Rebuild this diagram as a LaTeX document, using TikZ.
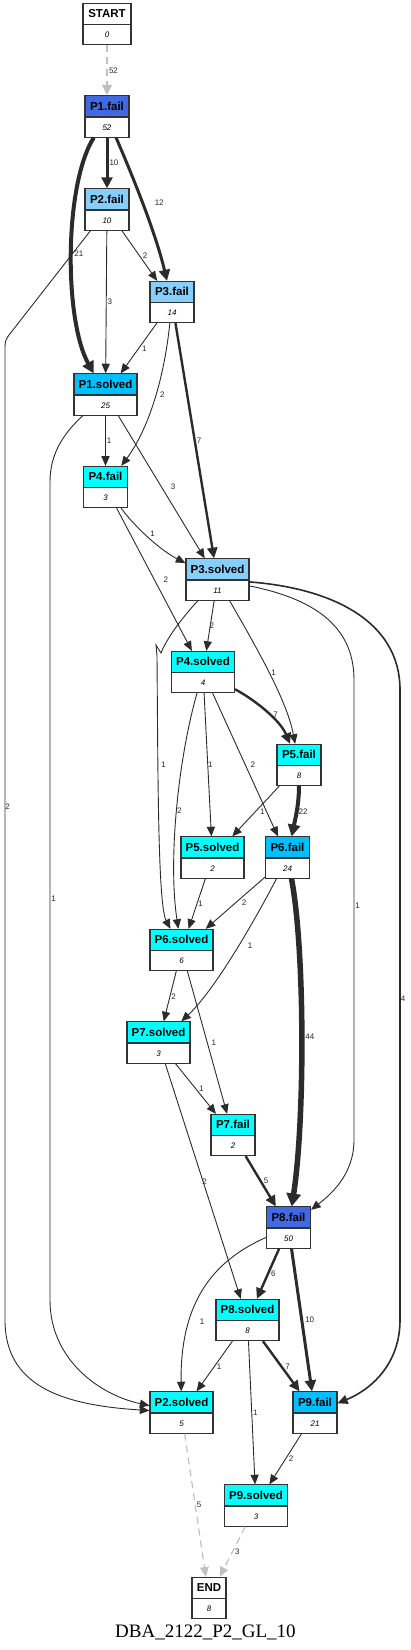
\documentclass[tikz,border=0pt]{standalone}
\usepackage{fontspec}
\setmainfont{Liberation Sans}
\newfontfamily\titlefont{Liberation Serif}
\usetikzlibrary{arrows.meta,shapes.multipart}
\definecolor{royal}{HTML}{4169E1}
\definecolor{skylight}{HTML}{87CEFA}
\definecolor{skydeep}{HTML}{00BFFF}
\definecolor{aqua}{HTML}{00FFFF}
\definecolor{edgecol}{HTML}{2B2B2B}
\definecolor{faint}{HTML}{C0C0C0}
\newcommand{\statehead}[1]{\fontsize{11.5}{12}\selectfont\bfseries\rule[-6pt]{0pt}{20pt}#1}
\newcommand{\statecount}[1]{\fontsize{8}{9}\selectfont\itshape\rule[-6.5pt]{0pt}{19pt}#1}

\begin{document}
\begin{tikzpicture}[
    x=1pt, y=-1pt,
    state/.style={rectangle split, rectangle split parts=2, draw=black!80, line width=1.1pt,
        inner xsep=2pt, inner ysep=0pt, rectangle split part fill={#1,white}},
    fail/.style={state=#1, minimum width=44pt},
    solved/.style={state=#1, minimum width=63pt},
    flow/.style={-{Triangle[length=9pt 0.7,width=7pt 1.3]}, draw=edgecol, line width=#1},
    flow/.default=0.9pt,
    faded/.style={-{Triangle[length=9pt 0.7,width=7pt 1.3]}, draw=faint, dash pattern=on 7pt off 5pt, line width=#1},
    lbl/.style={font=\fontsize{8}{9}\selectfont, inner sep=1pt, text=black!85}
]
\useasboundingbox (0,0) rectangle (411,1650);
\node[state=white, minimum width=48pt] (start) at (107,24) {\statehead{START}\nodepart{two}\statecount{0}};
\node[fail=royal] (p1f) at (107,116.5) {\statehead{P1.fail}\nodepart{two}\statecount{52}};
\node[fail=skylight] (p2f) at (107,209.5) {\statehead{P2.fail}\nodepart{two}\statecount{10}};
\node[fail=skylight] (p3f) at (172,302) {\statehead{P3.fail}\nodepart{two}\statecount{14}};
\node[solved=skydeep] (p1s) at (105.5,394.5) {\statehead{P1.solved}\nodepart{two}\statecount{25}};
\node[fail=aqua] (p4f) at (105.5,487) {\statehead{P4.fail}\nodepart{two}\statecount{3}};
\node[solved=skylight] (p3s) at (217.5,579.5) {\statehead{P3.solved}\nodepart{two}\statecount{11}};
\node[solved=aqua] (p4s) at (203,672) {\statehead{P4.solved}\nodepart{two}\statecount{4}};
\node[fail=aqua] (p5f) at (299,765) {\statehead{P5.fail}\nodepart{two}\statecount{8}};
\node[solved=aqua] (p5s) at (212.5,857.5) {\statehead{P5.solved}\nodepart{two}\statecount{2}};
\node[fail=skydeep] (p6f) at (287.5,857.5) {\statehead{P6.fail}\nodepart{two}\statecount{24}};
\node[solved=aqua] (p6s) at (181.5,950) {\statehead{P6.solved}\nodepart{two}\statecount{6}};
\node[solved=aqua] (p7s) at (158.5,1042.5) {\statehead{P7.solved}\nodepart{two}\statecount{3}};
\node[fail=aqua] (p7f) at (233,1135) {\statehead{P7.fail}\nodepart{two}\statecount{2}};
\node[fail=royal] (p8f) at (288.5,1227.5) {\statehead{P8.fail}\nodepart{two}\statecount{50}};
\node[solved=aqua] (p8s) at (247.5,1320) {\statehead{P8.solved}\nodepart{two}\statecount{8}};
\node[solved=aqua] (p2s) at (181.5,1412.5) {\statehead{P2.solved}\nodepart{two}\statecount{5}};
\node[fail=skydeep] (p9f) at (315,1412.5) {\statehead{P9.fail}\nodepart{two}\statecount{21}};
\node[solved=aqua] (p9s) at (256,1505.5) {\statehead{P9.solved}\nodepart{two}\statecount{3}};
\node[state=white, minimum width=34pt] (finish) at (209,1598) {\statehead{END}\nodepart{two}\statecount{8}};
\node[font=\titlefont\fontsize{19}{22}\selectfont, anchor=base] (title) at (205.5,1637) {DBA\_2122\_P2\_GL\_10};

\draw[faded=2pt] (start) -- node[lbl,right=0pt]{52} (p1f);
\draw[flow=3pt] (p1f) -- node[lbl,right=0pt]{10} (p2f);
\draw[flow=3pt] (p1f) .. controls (130,170) and (155,230) .. node[lbl,right=10pt]{12} (p3f);
\draw[flow=4pt] (p1f) .. controls (64,185) and (64,320) .. node[lbl,right=0pt]{21} (p1s);
\draw[flow] (p2f) -- node[lbl,right=0pt]{3} (p1s);
\draw[flow] (p2f) -- node[lbl,right=2pt]{2} (p3f);
\draw[flow] (p2f) -- (9,335) .. controls (5,341) .. (5,352) -- node[lbl,pos=0.47,right=-1pt]{2} (5,1320) .. controls (5,1385) and (60,1405) .. (p2s);
\draw[flow] (p3f) -- node[lbl,right=2pt]{1} (p1s);
\draw[flow] (p3f) .. controls (164,380) and (148,430) .. node[lbl,pos=0.45,right=3pt]{2} (p4f);
\draw[flow=2.4pt] (p3f) -- node[lbl,right=0pt]{7} (p3s);
\draw[flow] (p1s) -- node[lbl,right=0pt]{1} (p4f);
\draw[flow] (p1s) -- node[lbl,right=8pt]{3} (p3s);
\draw[flow] (p1s) .. controls (62,435) and (50,455) .. (50,482) -- node[lbl,pos=0.51,right=0pt]{1} (50,1300) .. controls (50,1360) and (100,1395) .. (p2s);
\draw[flow] (p4f) .. controls (135,527) and (160,550) .. node[lbl,above right=0pt]{1} (p3s);
\draw[flow] (p4f) -- node[lbl,right=8pt]{2} (p4s);
\draw[flow] (p3s) -- node[lbl,right=-2pt]{2} (p4s);
\draw[flow] (p3s) .. controls (180,620) and (166,640) .. (161,653) -- (156,645) -- (157,656) .. controls (158,780) and (158,905) .. node[lbl,pos=0.3,right=2pt]{1} (p6s);
\draw[flow] (p3s) .. controls (255,645) and (287,700) .. node[lbl,right=1pt]{1} (p5f);
\draw[flow] (p3s) .. controls (320,600) and (354,630) .. (354,680) -- node[lbl,pos=0.49,right=0pt]{1} (354,1140) .. controls (354,1175) and (330,1195) .. (p8f);
\draw[flow=1.6pt] (p3s) .. controls (330,588) and (400,620) .. (400,690) -- node[lbl,pos=0.49,right=-1pt]{4} (400,1320) .. controls (400,1365) and (370,1390) .. (p9f);
\draw[flow=2.4pt] (p4s) .. controls (255,700) and (280,720) .. node[lbl,pos=0.55,right=2pt]{7} (p5f);
\draw[flow] (p4s) .. controls (178,760) and (168,860) .. node[lbl,right=-1pt]{2} (p6s);
\draw[flow] (p4s) -- node[lbl,right=-1pt]{1} (p5s);
\draw[flow] (p4s) -- node[lbl,right=4pt]{2} (p6f);
\draw[flow] (p5f) -- node[lbl,right=3pt]{1} (p5s);
\draw[flow=4pt] (p5f) .. controls (299,805) and (295,820) .. node[lbl,right=-1pt]{22} (p6f);
\draw[flow] (p5s) -- node[lbl,right=0pt]{1} (p6s);
\draw[flow] (p6f) -- node[lbl,right=5pt]{2} (p6s);
\draw[flow] (p6f) .. controls (255,920) and (215,990) .. node[lbl,pos=0.45,right=8pt]{1} (p7s);
\draw[flow=5.5pt] (p6f) .. controls (305,950) and (305,1120) .. node[lbl,right=0pt]{44} (p8f);
\draw[flow] (p6s) -- node[lbl,right=0pt]{2} (p7s);
\draw[flow] (p6s) -- node[lbl,right=3pt]{1} (p7f);
\draw[flow] (p7s) -- node[lbl,right=2pt]{1} (p7f);
\draw[flow] (p7s) -- node[lbl,right=-2pt]{2} (p8s);
\draw[flow=2.4pt] (p7f) -- node[lbl,right=1pt]{5} (p8f);
\draw[flow=2.4pt] (p8f) -- node[lbl,right=1pt]{6} (p8s);
\draw[flow] (p8f) .. controls (215,1260) and (180,1300) .. node[lbl,pos=0.7,right=9pt]{1} (p2s);
\draw[flow=3pt] (p8f) -- node[lbl,right=1pt]{10} (p9f);
\draw[flow] (p8s) -- node[lbl,right=1pt]{1} (p2s);
\draw[flow=2.4pt] (p8s) -- node[lbl,right=2pt]{7} (p9f);
\draw[flow] (p8s) -- node[lbl,right=0pt]{1} (p9s);
\draw[flow] (p9f) -- node[lbl,right=2pt]{2} (p9s);
\draw[faded=1.2pt] (p2s) -- node[lbl,right=0pt]{5} (finish);
\draw[faded=1.2pt] (p9s) -- node[lbl,right=1pt]{3} (finish);
\end{tikzpicture}
\end{document}
